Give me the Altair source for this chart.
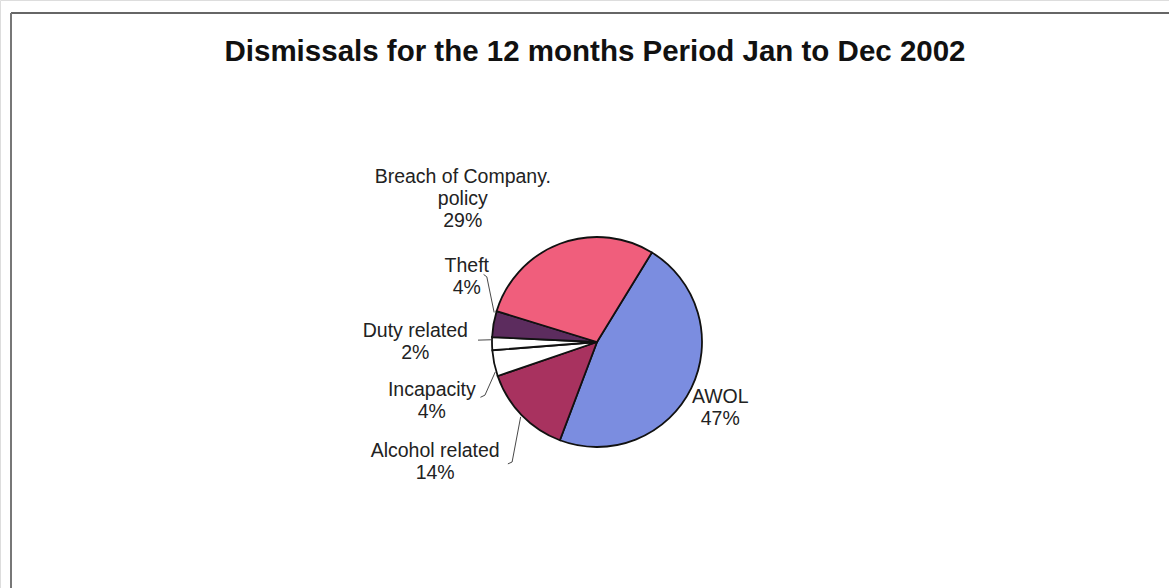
import math
import altair as alt
import pandas as pd

# ---- data ----
categories = ["AWOL", "Alcohol related", "Incapacity", "Duty related", "Theft", "Breach of Company. policy"]
values = [47, 14, 4, 2, 4, 29]
label_lines = ["AWOL\n47%", "Alcohol related\n14%", "Incapacity\n4%", "Duty related\n2%",
               "Theft\n4%", "Breach of Company.\npolicy\n29%"]
colors = ["#7b8de0", "#a8325f", "#ffffff", "#ffffff", "#5c2c5e", "#f05e7c"]

# ---- layout (pixels / angular nudges) ----
W, H = 1169, 588
CX, CY, R = 597, 342, 105
START = math.radians(31.5)
label_nudge = [-0.56, 2.83, -1.25, 1.2, 5.7, -5.1]      # in percent of the circle
label_radius = [135, 195, 172, 182, 151, 213]

total = sum(values)
cum, mids = 0, []
for v in values:
    mids.append(cum + v / 2)
    cum += v

df = pd.DataFrame({
    "cat": categories,
    "val": values,
    "order": list(range(len(values))),
    "label": label_lines,
    "lpos": [m + n for m, n in zip(mids, label_nudge)],
    "lrad": label_radius,
})

theta_scale = alt.Scale(domain=[0, total], range=[START, START + 2 * math.pi])
color_scale = alt.Scale(domain=categories, range=colors)

pie = alt.Chart(df).mark_arc(outerRadius=R, stroke="#111111", strokeWidth=1.8).encode(
    theta=alt.Theta("val:Q", stack=True, scale=theta_scale),
    color=alt.Color("cat:N", scale=color_scale, legend=None),
    order=alt.Order("order:Q"),
    x=alt.value(CX), y=alt.value(CY),
)

labels = alt.Chart(df).mark_text(
    font="Liberation Sans", fontSize=19.5, color="#222222", lineBreak="\n",
    align="center", baseline="middle", lineHeight=22,
).encode(
    theta=alt.Theta("lpos:Q", stack=None, scale=theta_scale),
    radius=alt.Radius("lrad:Q", scale=None),
    text="label:N",
    x=alt.value(CX), y=alt.value(CY),
)

# leader lines: (percent-angle, radius) points converted through the same angle mapping
def polar(p, r):
    a = START + 2 * math.pi * p / total
    return CX + r * math.sin(a), CY - r * math.cos(a)

leaders = [
    [(70.7, 107), (74.75, 128), (74.8, 132)],     # Theft
    [(66.6, 104), (66.5, 119)],                   # Duty related
    [(61.7, 106), (59.2, 124), (59.2, 129)],      # Incapacity
    [(53.9, 107), (51.05, 147), (51.3, 151)],     # Alcohol related
]
rows = []
for i, pts in enumerate(leaders):
    for j, (p, r) in enumerate(pts):
        x, y = polar(p, r)
        rows.append({"g": i, "k": j, "x": x, "y": y})
ldf = pd.DataFrame(rows)
lead = alt.Chart(ldf).mark_line(color="#333333", strokeWidth=0.9).encode(
    x=alt.X("x:Q", scale=None), y=alt.Y("y:Q", scale=None),
    detail="g:N", order="k:Q",
)

title = alt.Chart(pd.DataFrame({"t": ["Dismissals for the 12 months Period Jan to Dec 2002"]})).mark_text(
    font="Liberation Sans", fontSize=29.5, fontWeight="bold", color="#111111", baseline="alphabetic"
).encode(text="t:N", x=alt.value(595), y=alt.value(61))

border_top = alt.Chart(pd.DataFrame({"a": [0]})).mark_rule(color="#666666", strokeWidth=2).encode(
    x=alt.value(11), x2=alt.value(W), y=alt.value(13))
border_left = alt.Chart(pd.DataFrame({"a": [0]})).mark_rule(color="#777777", strokeWidth=2).encode(
    x=alt.value(11), y=alt.value(13), y2=alt.value(H))

chart = alt.layer(border_top, border_left, title, pie, lead, labels).properties(
    width=W, height=H, autosize=alt.AutoSizeParams(type="none"), padding=0,
).configure_view(stroke=None).configure(background="white")

chart.save("out.html", embed_options={"renderer": "svg", "actions": False})
